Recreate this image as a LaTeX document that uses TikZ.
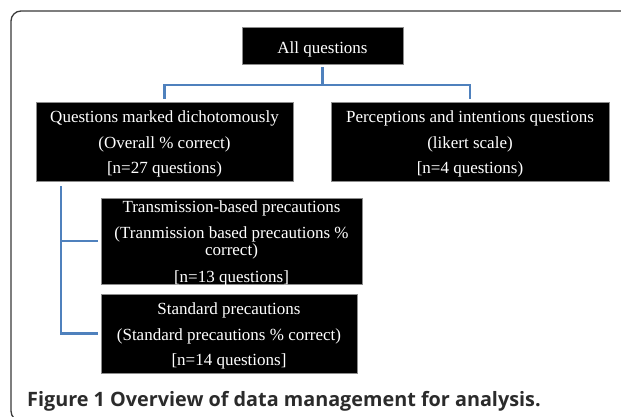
\documentclass[tikz,border=0pt]{standalone}
\usepackage{fontspec}
\setmainfont{Liberation Serif}
\newfontfamily\capfont{Open Sans}
\definecolor{connblue}{HTML}{4F81BD}
\definecolor{framegray}{HTML}{3A3A3A}
\definecolor{captext}{HTML}{2B2B2B}
\tikzset{
  blackbox/.style={fill=black, draw=black!45, line width=0.6pt, inner sep=0pt},
  boxtext/.style={text=white, align=center, inner sep=0pt, yshift=-2.5pt,
    font=\fontsize{17}{25.5}\selectfont},
  conn/.style={draw=connblue, line width=2.4pt},
  framebox/.style={draw=framegray, line width=1.3pt, rounded corners=10pt}
}
\begin{document}
\begin{tikzpicture}[x=1pt, y=-1pt]
\useasboundingbox (0,0) rectangle (621,417);
\clip (0,0) rectangle (621,417);
\fill[white] (0,0) rectangle (621,417);
\draw[framebox] (11,11) rectangle (645,421);

\node[blackbox, minimum width=161pt, minimum height=37pt,
  label={[boxtext, yshift=-1pt]center:All questions}] (all) at (322.5,45.5) {};
\node[blackbox, minimum width=257pt, minimum height=79pt,
  label={[boxtext]center:{Questions marked dichotomously\\ (Overall \% correct)\\ {[}n=27 questions)}}] (q) at (164.5,141.5) {};
\node[blackbox, minimum width=278pt, minimum height=79pt,
  label={[boxtext]center:{Perceptions and intentions questions\\ (likert scale)\\ {[}n=4 questions)}}] (p) at (470,141.5) {};
\node[blackbox, minimum width=261pt, minimum height=86pt,
  label={[boxtext, font=\fontsize{17}{17}\selectfont]center:{Transmission-based precautions\\[9pt] (Tranmission based precautions \%\\ correct)\\[10pt] {[}n=13 questions{]}}}] (t) at (231.5,241) {};
\node[blackbox, minimum width=256pt, minimum height=79pt,
  label={[boxtext]center:{Standard precautions\\ (Standard precautions \% correct)\\ {[}n=14 questions{]}}}] (s) at (229,333.5) {};

\coordinate (bus) at (0,85);
\coordinate (spine) at (61,186);
\draw[conn] ([yshift=-3pt]all.south) -- (all.south |- bus);
\draw[conn] ([yshift=3pt]q.north) -- (q.north |- bus) -- (p.north |- bus) -- ([yshift=3pt]p.north);
\draw[conn] (spine) -- (spine |- s.west) -- ([xshift=-3pt]s.west);
\draw[conn] (spine |- t.west) -- ([xshift=-3pt]t.west);

\node[anchor=base west, inner sep=0pt, text=captext, font=\capfont\bfseries\fontsize{19.8}{22}\selectfont] (cap) at (27,406)
  {Figure 1 Overview of data management for analysis.};
\end{tikzpicture}
\end{document}
